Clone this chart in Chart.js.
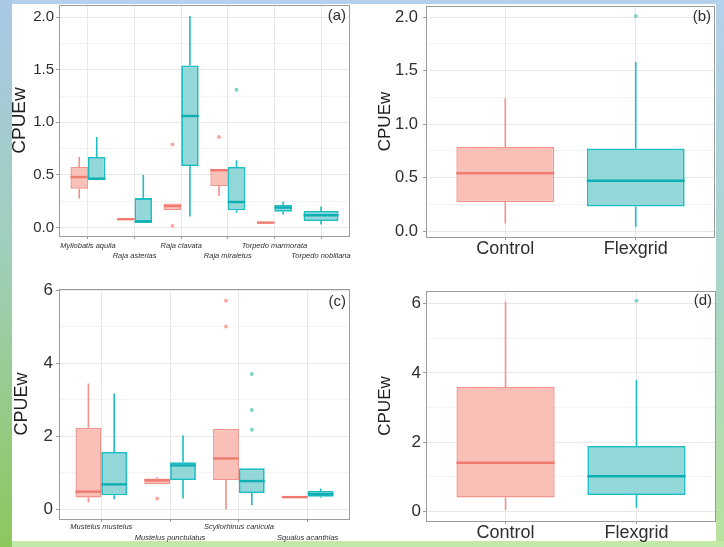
<!DOCTYPE html>
<html>
<head>
<meta charset="utf-8">
<script src="https://cdn.jsdelivr.net/npm/chart.js@4.4.1/dist/chart.umd.min.js"></script>
<style>
  html, body { margin: 0; padding: 0; }
  body {
    width: 724px; height: 547px; position: relative; overflow: hidden;
    background: linear-gradient(to bottom, #b3d1ec 0%, #a7d6cc 50%, #b8e29c 100%);
  }
  #leftStrip { position: absolute; left: 0; top: 0; width: 12px; height: 547px;
    background: linear-gradient(to bottom, #a9c8e6 0%, #9fcfbc 45%, #8cc75c 100%); }
  #bottomStrip { position: absolute; left: 12px; top: 541px; width: 712px; height: 6px; background: #c3e9a8; }
  #sheet { position: absolute; left: 12px; top: 4px; width: 704px; height: 537px; background: #fff; }
  canvas { position: absolute; }
</style>
</head>
<body>
<div id="leftStrip"></div>
<div id="bottomStrip"></div>
<div id="sheet"></div>
<canvas id="panelA" width="362" height="270" style="left:0;top:0"></canvas>
<canvas id="panelB" width="362" height="270" style="left:362px;top:0"></canvas>
<canvas id="panelC" width="362" height="277" style="left:0;top:270px"></canvas>
<canvas id="panelD" width="362" height="277" style="left:362px;top:270px"></canvas>
<script>
/* Boxplots of CPUEw, Control vs Flexgrid — (a) rays, (b) rays pooled, (c) sharks, (d) sharks pooled */

const SPECIES_A = ['Myliobatis aquila','Raja asterias','Raja clavata','Raja miraletus','Torpedo marmorata','Torpedo nobiliana'];
const SPECIES_C = ['Mustelus mustelus','Mustelus punctulatus','Scyliorhinus canicula','Squalus acanthias'];
const GEARS = ['Control','Flexgrid'];

// each box: [lower whisker, Q1, median, Q3, upper whisker]
const CONTROL_A  = [[0.275,0.37,0.48,0.575,0.67],[0.075,0.075,0.08,0.085,0.085],[0.167,0.167,0.205,0.23,0.23],
                    [0.30,0.395,0.545,0.56,0.56],[0.043,0.043,0.047,0.052,0.052],null];
const FLEXGRID_A = [[0.45,0.455,0.465,0.67,0.86],[0.054,0.054,0.056,0.28,0.50],[0.105,0.585,1.06,1.54,2.01],
                    [0.142,0.165,0.243,0.575,0.64],[0.125,0.15,0.19,0.215,0.245],[0.03,0.063,0.117,0.158,0.20]];
const CONTROL_A_OUT  = [[],[],[0.79,0.016],[0.86],[],[]];
const FLEXGRID_A_OUT = [[],[],[],[1.31],[],[]];

const CONTROL_B  = [0.07,0.27,0.54,0.785,1.24];
const FLEXGRID_B = [0.04,0.23,0.47,0.77,1.58];
const FLEXGRID_B_OUT = [2.01];

const CONTROL_C  = [[0.18,0.32,0.48,2.23,3.45],[0.68,0.68,0.79,0.84,0.88],[0.0,0.8,1.39,2.2,2.2],[0.32,0.32,0.33,0.35,0.35]];
const FLEXGRID_C = [[0.27,0.38,0.68,1.57,3.17],[0.29,0.8,1.2,1.29,2.03],[0.11,0.44,0.77,1.12,1.12],[0.31,0.34,0.41,0.5,0.57]];
const CONTROL_C_OUT  = [[],[0.29],[5.72,5.01],[]];
const FLEXGRID_C_OUT = [[],[],[3.71,2.72,2.18],[]];

const CONTROL_D  = [0.05,0.41,1.41,3.59,6.05];
const FLEXGRID_D = [0.11,0.48,1.02,1.89,3.8];
const FLEXGRID_D_OUT = [6.08];

const Y_TICKS_AB  = [0, 0.5, 1.0, 1.5, 2.0];
const Y_LABELS_AB = ['0.0','0.5','1.0','1.5','2.0'];
const Y_MINOR_AB  = [0.25, 0.75, 1.25, 1.75];
const Y_TICKS_CD  = [0, 2, 4, 6];
const Y_LABELS_CD = ['0','2','4','6'];
const Y_MINOR_CD  = [1, 3, 5];

const CTRL_FILL = '#f9c0b8', CTRL_LINE = '#f3928a', CTRL_MED = '#f07a70', CTRL_DOT = '#f8aaa3';
const FLEX_FILL = '#94d7d9', FLEX_LINE = '#1dbdc2', FLEX_MED = '#0fb0b5', FLEX_DOT = '#7fd3c6';
const GRID_MAJOR = '#e8e8e8', GRID_MINOR = '#f3f3f3', FRAME = '#9c9c9c', INK = '#2e2e2e';

Chart.defaults.font.family = "'Liberation Sans', Arial, sans-serif";
Chart.defaults.color = INK;

const near = (a, b) => Math.abs(a - b) < 1e-9;

// whiskers, medians and outliers on top of the floating bars (bars = IQR)
const boxPlugin = {
  id: 'boxes',
  afterDatasetsDraw(chart) {
    const { ctx, chartArea: a, scales: { y } } = chart;
    ctx.save();
    ctx.beginPath(); ctx.rect(a.left, a.top, a.width, a.height); ctx.clip();
    chart.data.datasets.forEach((ds, di) => {
      const meta = chart.getDatasetMeta(di);
      ds.stats.forEach((s, i) => {
        if (!s) return;
        const bar = meta.data[i];
        const x = bar.x, half = bar.width / 2;
        ctx.strokeStyle = ds.whisker; ctx.lineWidth = 1.6;
        ctx.beginPath();
        ctx.moveTo(x, y.getPixelForValue(s[3])); ctx.lineTo(x, y.getPixelForValue(s[4]));
        ctx.moveTo(x, y.getPixelForValue(s[0])); ctx.lineTo(x, y.getPixelForValue(s[1]));
        ctx.stroke();
        const ym = y.getPixelForValue(s[2]);
        ctx.strokeStyle = ds.median; ctx.lineWidth = 2.4;
        ctx.beginPath(); ctx.moveTo(x - half, ym); ctx.lineTo(x + half, ym); ctx.stroke();
        ctx.fillStyle = ds.dot;
        (ds.out[i] || []).forEach((v) => {
          ctx.beginPath(); ctx.arc(x, y.getPixelForValue(v), 2, 0, Math.PI * 2); ctx.fill();
        });
      });
    });
    ctx.restore();
  }
};

// panel frame and the (a)/(b)/... tag
const framePlugin = {
  id: 'frame',
  afterDraw(chart, args, opts) {
    const { ctx, chartArea: a } = chart;
    ctx.save();
    ctx.strokeStyle = FRAME; ctx.lineWidth = 1;
    ctx.strokeRect(Math.round(a.left) - 0.5, Math.round(a.top) + 0.5, Math.round(a.width) + 1, Math.round(a.height));
    ctx.fillStyle = INK;
    ctx.font = `${opts.size}px 'Liberation Sans', Arial, sans-serif`;
    ctx.textAlign = 'right'; ctx.textBaseline = 'middle';
    ctx.fillText(opts.text, a.right - opts.dx, a.top + opts.dy);
    ctx.restore();
  }
};

function boxPanel(id, o) {
  const n = o.cats.length;
  const toBars = (rows) => rows.map((r, i) => ({ x: i + 1, y: r ? [r[1], r[3]] : null }));
  const barCommon = { categoryPercentage: 0.75, barPercentage: 1, skipNull: true, borderSkipped: false };
  const isMinor = (v) => o.yMinor.some((m) => near(m, v));

  new Chart(document.getElementById(id), {
    type: 'bar',
    data: {
      datasets: [
        { label: 'Control', data: toBars(o.ctrl), stats: o.ctrl, out: o.ctrlOut,
          backgroundColor: CTRL_FILL, borderColor: CTRL_LINE, borderWidth: 1.4,
          whisker: CTRL_LINE, median: CTRL_MED, dot: CTRL_DOT, ...barCommon },
        { label: 'Flexgrid', data: toBars(o.flex), stats: o.flex, out: o.flexOut,
          backgroundColor: FLEX_FILL, borderColor: FLEX_LINE, borderWidth: 1.8,
          whisker: FLEX_LINE, median: FLEX_MED, dot: FLEX_DOT, ...barCommon },
      ],
    },
    options: {
      responsive: false,
      animation: false,
      layout: { padding: { left: 0, right: o.padRight, top: o.padTop, bottom: 0 } },
      plugins: {
        legend: { display: false },
        tooltip: { enabled: false },
        frame: { text: o.tag, size: 15, dx: 3, dy: o.tagDy },
      },
      scales: {
        x: {
          type: 'linear', min: 0.4, max: n + 0.6, offset: false,
          afterBuildTicks: (s) => { s.ticks = o.cats.map((c, i) => ({ value: i + 1 })); },
          afterFit: (s) => { s.height = o.xHeight; s.paddingLeft = 0; s.paddingRight = 0; },
          border: { display: false },
          grid: { offset: false, color: GRID_MAJOR, tickColor: FRAME, tickLength: 3 },
          ticks: {
            autoSkip: false, maxRotation: 0, minRotation: 0, padding: o.xPad, color: INK,
            font: o.xFont,
            callback: (v) => o.xLabel(v - 1),
          },
        },
        y: {
          type: 'linear', min: o.yMin, max: o.yMax,
          afterBuildTicks: (s) => {
            s.ticks = [...o.yTicks, ...o.yMinor].sort((p, q) => p - q).map((v) => ({ value: v }));
          },
          afterFit: (s) => { s.width = o.yWidth; s.paddingTop = 0; s.paddingBottom = 0; },
          border: { display: false },
          grid: {
            color: (c) => (c.tick && isMinor(c.tick.value) ? GRID_MINOR : GRID_MAJOR),
            tickColor: (c) => (c.tick && isMinor(c.tick.value) ? 'rgba(0,0,0,0)' : FRAME),
            tickLength: 4,
          },
          ticks: {
            autoSkip: false, padding: o.yPad, color: INK,
            font: { size: o.yFont },
            callback: (v) => {
              const k = o.yTicks.findIndex((t) => near(t, v));
              return k < 0 ? '' : o.yLabels[k];
            },
          },
          title: {
            display: true, text: 'CPUEw', color: '#1e1e1e',
            font: { size: o.titleFont, lineHeight: 1 },
            padding: { top: o.titlePad, bottom: 0 },
          },
        },
      },
    },
    plugins: [boxPlugin, framePlugin],
  });
}

// species panels: labels dodged over two rows
const dodged = (cats) => (i) => (i % 2 === 0 ? [cats[i], ''] : ['', cats[i]]);

boxPanel('panelA', {
  cats: SPECIES_A, ctrl: CONTROL_A, flex: FLEXGRID_A, ctrlOut: CONTROL_A_OUT, flexOut: FLEXGRID_A_OUT,
  yMin: -0.08, yMax: 2.115, yTicks: Y_TICKS_AB, yLabels: Y_LABELS_AB, yMinor: Y_MINOR_AB,
  padTop: 5, padRight: 13, xHeight: 34, yWidth: 60, yFont: 15, yPad: 2, titleFont: 19, titlePad: 10,
  xFont: { size: 7.5, style: 'italic', lineHeight: 1.45 }, xPad: 1, xLabel: dodged(SPECIES_A),
  tag: '(a)', tagDy: 11,
});

boxPanel('panelB', {
  cats: GEARS, ctrl: [CONTROL_B, null], flex: [null, FLEXGRID_B], ctrlOut: [[], []], flexOut: [[], FLEXGRID_B_OUT],
  yMin: -0.056, yMax: 2.103, yTicks: Y_TICKS_AB, yLabels: Y_LABELS_AB, yMinor: Y_MINOR_AB,
  padTop: 6, padRight: 10, xHeight: 33, yWidth: 65, yFont: 16.5, yPad: 5, titleFont: 17, titlePad: 15,
  xFont: { size: 18, lineHeight: 1 }, xPad: 0, xLabel: (i) => GEARS[i],
  tag: '(b)', tagDy: 11,
});

boxPanel('panelC', {
  cats: SPECIES_C, ctrl: CONTROL_C, flex: FLEXGRID_C, ctrlOut: CONTROL_C_OUT, flexOut: FLEXGRID_C_OUT,
  yMin: -0.27, yMax: 6.04, yTicks: Y_TICKS_CD, yLabels: Y_LABELS_CD, yMinor: Y_MINOR_CD,
  padTop: 19, padRight: 13, xHeight: 28, yWidth: 60, yFont: 17, yPad: 3, titleFont: 18, titlePad: 13,
  xFont: { size: 7.5, style: 'italic', lineHeight: 1.4 }, xPad: 0, xLabel: dodged(SPECIES_C),
  tag: '(c)', tagDy: 13,
});

boxPanel('panelD', {
  cats: GEARS, ctrl: [CONTROL_D, null], flex: [null, FLEXGRID_D], ctrlOut: [[], []], flexOut: [[], FLEXGRID_D_OUT],
  yMin: -0.27, yMax: 6.36, yTicks: Y_TICKS_CD, yLabels: Y_LABELS_CD, yMinor: Y_MINOR_CD,
  padTop: 21, padRight: 9, xHeight: 26, yWidth: 65, yFont: 17, yPad: 2, titleFont: 17, titlePad: 15,
  xFont: { size: 18, lineHeight: 1 }, xPad: 0, xLabel: (i) => GEARS[i],
  tag: '(d)', tagDy: 10,
});
</script>
</body>
</html>
